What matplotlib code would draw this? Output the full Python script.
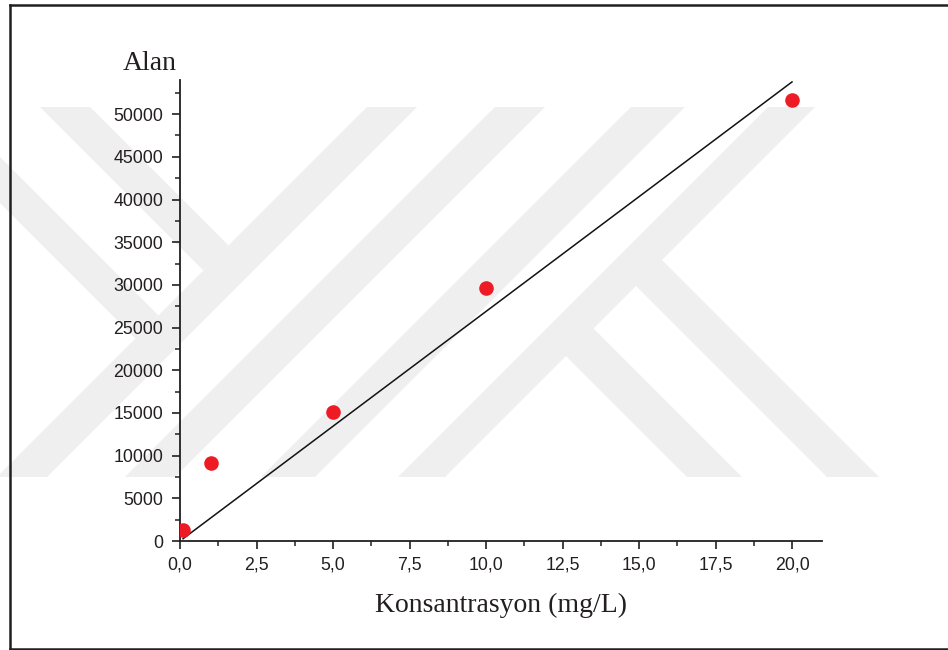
# Calibration plot: peak area vs concentration
import numpy as np
from matplotlib import pyplot as plt
from matplotlib.patches import Polygon
from matplotlib.ticker import MultipleLocator

# measured points
konsantrasyon = [0.1, 1, 5, 10, 20]
alan = [1300, 9100, 15070, 29625, 51675]

x_ticks = [0, 2.5, 5, 7.5, 10, 12.5, 15, 17.5, 20]
x_tick_labels = ['0,0', '2,5', '5,0', '7,5', '10,0', '12,5', '15,0', '17,5', '20,0']
y_ticks = [0, 5000, 10000, 15000, 20000, 25000, 30000, 35000, 40000, 45000, 50000]
y_tick_labels = ['0', '5000', '10000', '15000', '20000', '25000', '30000',
                 '35000', '40000', '45000', '50000']


def watermark(fig):
    # faint logo behind the chart, in pixel coordinates of the page
    bg = fig.add_axes([0, 0, 1, 1], zorder=0)
    bg.set_xlim(0, 948)
    bg.set_ylim(650, 0)
    bg.axis('off')
    top, bot = 107, 477
    shapes = []
    # "/" bands, between x+y=c1 and x+y=c2
    for c1, c2 in [(474, 524), (602, 652), (738, 792), (875, 922)]:
        shapes.append([(c1 - top, top), (c2 - top, top), (c2 - bot, bot), (c1 - bot, bot)])
    # "\" bands of the left part
    shapes.append([(40, 107), (90, 107), (228.5, 245.5), (203.5, 270.5)])
    shapes.append([(0, 157), (0, 203), (135.5, 338.5), (158.5, 315.5)])
    # "\" bands of the K
    shapes.append([(625, 275), (651, 249), (879, 477), (827, 477)])
    shapes.append([(555, 345), (582.5, 317.5), (742, 477), (687, 477)])
    for s in shapes:
        bg.add_patch(Polygon(s, closed=True, facecolor='#efefef', edgecolor='none'))
    # page frame
    bg.plot([10.5, 10.5], [5, 648.5], color='#231f20', lw=1.8)
    bg.plot([10.5, 948], [5, 5], color='#231f20', lw=1.8)
    bg.plot([10.5, 948], [648.5, 648.5], color='#231f20', lw=1.8)


def calibration_plot():
    fig = plt.figure(figsize=(9.48, 6.5), dpi=100)
    watermark(fig)

    ax = fig.add_axes([180 / 948, 109 / 650, 642 / 948, 461 / 650], zorder=1)
    ax.patch.set_alpha(0)

    x = np.array(konsantrasyon, dtype=float)
    y = np.array(alan, dtype=float)
    # linear fit through the origin
    slope = np.sum(x * y) / np.sum(x * x)
    ax.plot([x[0], x[-1]], [slope * x[0], slope * x[-1]], color='#111111', lw=1.1, zorder=2)
    ax.plot(x, y, 'o', color='#ed1c24', markersize=10.5, markeredgewidth=0, zorder=3)

    ax.set_xlim(0, 20.98)
    ax.set_ylim(0, 54000)
    ax.set_xticks(x_ticks)
    ax.set_xticklabels(x_tick_labels)
    ax.set_yticks(y_ticks)
    ax.set_yticklabels(y_tick_labels)
    ax.xaxis.set_minor_locator(MultipleLocator(1.25))
    ax.yaxis.set_minor_locator(MultipleLocator(2500))

    for side in ['top', 'right']:
        ax.spines[side].set_visible(False)
    for side in ['left', 'bottom']:
        ax.spines[side].set_linewidth(1.3)
        ax.spines[side].set_color('#231f20')

    ax.tick_params(axis='both', which='major', direction='out', length=6, width=1.2,
                   labelsize=12.8, colors='#231f20', labelfontfamily='Liberation Sans')
    ax.tick_params(axis='both', which='minor', direction='out', length=3.5, width=1.1,
                   colors='#231f20')
    ax.tick_params(axis='y', which='major', pad=6)
    ax.tick_params(axis='x', which='major', pad=5)

    ax.set_xlabel('Konsantrasyon (mg/L)', fontsize=20, family='Liberation Serif',
                  color='#231f20', labelpad=14)
    fig.text(150 / 948, 1 - 63 / 650, 'Alan', fontsize=20, family='Liberation Serif',
             color='#231f20', ha='center', va='center')

    fig.savefig('out.png', dpi=100)


def main():
    calibration_plot()


if __name__ == '__main__':
    main()
